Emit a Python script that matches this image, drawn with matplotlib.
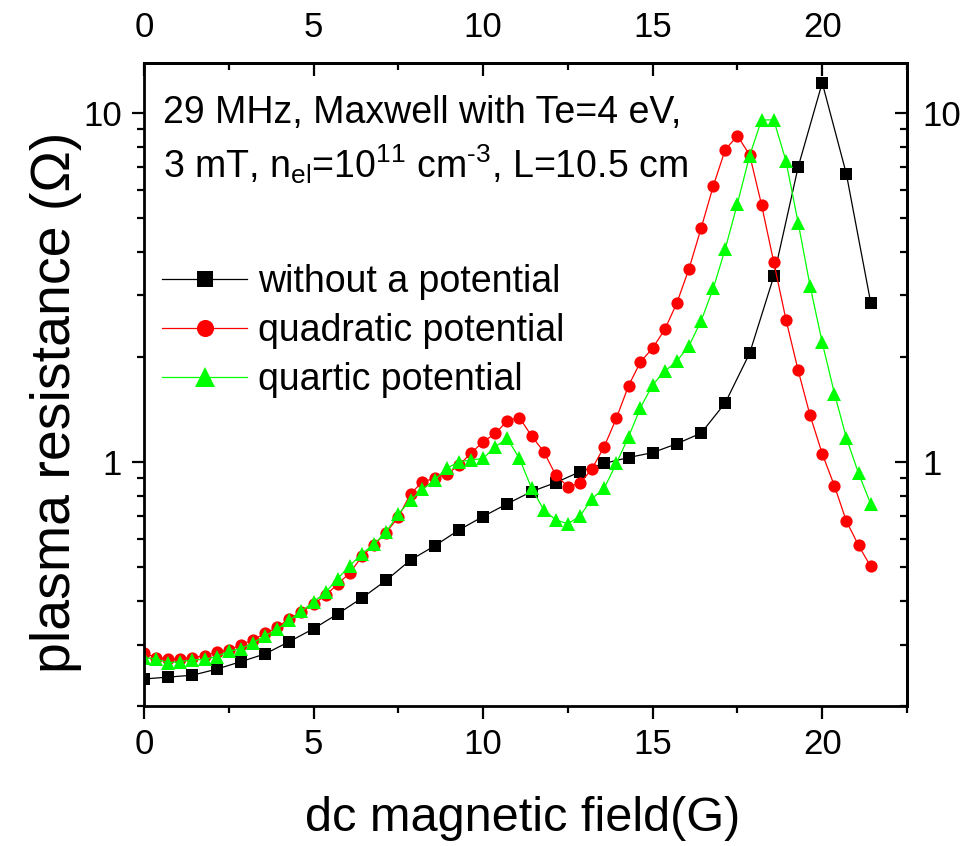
import numpy as np
import matplotlib
matplotlib.use("Agg")
import matplotlib.pyplot as plt
from matplotlib.ticker import FixedLocator, MultipleLocator, LogLocator, NullFormatter

plt.rcParams['font.family'] = ['Liberation Sans', 'DejaVu Sans']
plt.rcParams['mathtext.fontset'] = 'custom'
plt.rcParams['mathtext.rm'] = 'Liberation Sans'
plt.rcParams['mathtext.it'] = 'Liberation Sans:italic'

# dc magnetic field (G)
b_coarse = [0.0, 0.71, 1.43, 2.14, 2.86, 3.57, 4.29, 5.0, 5.71, 6.43, 7.14,
            7.86, 8.57, 9.29, 10.0, 10.71, 11.43, 12.14, 12.86, 13.57, 14.29,
            15.0, 15.71, 16.43, 17.14, 17.86, 18.57, 19.29, 20.0, 20.71, 21.43]
b_fine = [0.0, 0.36, 0.71, 1.07, 1.43, 1.79, 2.14, 2.5, 2.86, 3.21, 3.57,
          3.93, 4.29, 4.64, 5.0, 5.36, 5.71, 6.07, 6.43, 6.79, 7.14, 7.5,
          7.86, 8.21, 8.57, 8.93, 9.29, 9.64, 10.0, 10.36, 10.71, 11.07,
          11.43, 11.79, 12.14, 12.5, 12.86, 13.21, 13.57, 13.93, 14.29,
          14.64, 15.0, 15.36, 15.71, 16.07, 16.43, 16.79, 17.14, 17.5,
          17.86, 18.21, 18.57, 18.93, 19.29, 19.64, 20.0, 20.36, 20.71,
          21.07, 21.43]

# plasma resistance (Ohm)
r_none = [0.239, 0.242, 0.245, 0.255, 0.268, 0.282, 0.306, 0.333, 0.367,
          0.408, 0.458, 0.524, 0.575, 0.639, 0.698, 0.759, 0.823, 0.873,
          0.938, 0.991, 1.03, 1.064, 1.128, 1.21, 1.477, 2.05, 3.40, 7.0,
          12.2, 6.7, 2.86]
r_quad = [0.284, 0.275, 0.273, 0.273, 0.275, 0.279, 0.285, 0.289, 0.300,
          0.309, 0.323, 0.336, 0.356, 0.372, 0.392, 0.415, 0.447, 0.481,
          0.537, 0.579, 0.628, 0.695, 0.811, 0.877, 0.898, 0.922, 0.98,
          1.059, 1.143, 1.207, 1.313, 1.341, 1.187, 1.070, 0.918, 0.850,
          0.869, 0.956, 1.106, 1.335, 1.655, 1.935, 2.12, 2.40, 2.85, 3.575,
          4.68, 6.19, 7.85, 8.60, 7.58, 5.46, 3.74, 2.56, 1.83, 1.362, 1.056,
          0.854, 0.678, 0.577, 0.502]
r_quart = [0.275, 0.273, 0.266, 0.268, 0.271, 0.272, 0.277, 0.287, 0.292,
           0.303, 0.318, 0.332, 0.352, 0.374, 0.397, 0.424, 0.463, 0.505,
           0.546, 0.583, 0.630, 0.710, 0.776, 0.835, 0.888, 0.959, 1.002,
           1.013, 1.024, 1.106, 1.169, 1.024, 0.841, 0.729, 0.683, 0.665,
           0.701, 0.785, 0.841, 0.991, 1.181, 1.43, 1.665, 1.82, 1.945, 2.15,
           2.54, 3.15, 4.08, 5.5, 7.55, 9.55, 9.55, 7.29, 4.85, 3.2, 2.2,
           1.571, 1.175, 0.928, 0.758]

x_major = [0, 5, 10, 15, 20]
x_minor = [2.5, 7.5, 12.5, 17.5, 22.5]

fig = plt.figure(figsize=(9.6, 8.46), dpi=100)
ax = fig.add_axes([0.15, 0.1655, 0.7948, 0.76])

ax.plot(b_coarse, r_none, color='black', lw=0.9, marker='s', ms=8, mew=0,
        label='without a potential')
ax.plot(b_fine, r_quad, color='#ff0000', lw=0.9, marker='o', ms=8.8, mew=0,
        label='quadratic potential')
ax.plot(b_fine, r_quart, color='#00ff00', lw=0.9, marker='^', ms=10.5, mew=0,
        label='quartic potential')

ax.set_yscale('log')
ax.set_xlim(0, 22.5)
ax.set_ylim(0.2, 13.9)

ax.xaxis.set_major_locator(FixedLocator(x_major))
ax.xaxis.set_minor_locator(FixedLocator(x_minor))
ax.yaxis.set_major_locator(FixedLocator([1, 10]))
ax.yaxis.set_minor_locator(LogLocator(base=10, subs=np.arange(2, 10)))
ax.yaxis.set_minor_formatter(NullFormatter())
ax.set_yticklabels(['1', '10'])

for s in ax.spines.values():
    s.set_linewidth(2)
ax.tick_params(which='major', direction='out', length=9, width=1.6,
               labelsize=25, pad=7)
ax.tick_params(which='minor', direction='out', length=5, width=1.6)

# top and right axes, ticks pointing inward
top = ax.secondary_xaxis('top')
top.xaxis.set_major_locator(FixedLocator(x_major))
top.xaxis.set_minor_locator(FixedLocator(x_minor))
top.tick_params(which='major', direction='in', length=9, width=1.6,
                labelsize=25, pad=14)
top.tick_params(which='minor', direction='in', length=5, width=1.6)
top.spines['top'].set_linewidth(2)

right = ax.secondary_yaxis('right')
right.set_yscale('log')
right.yaxis.set_major_locator(FixedLocator([1, 10]))
right.yaxis.set_minor_locator(LogLocator(base=10, subs=np.arange(2, 10)))
right.yaxis.set_minor_formatter(NullFormatter())
right.set_yticks([1, 10], ['1', '10'])
right.tick_params(which='major', direction='in', length=9, width=1.6,
                  labelsize=25, pad=11)
right.tick_params(which='minor', direction='in', length=5, width=1.6)
right.spines['right'].set_linewidth(2)

fig.text(56 / 960, 1 - 402 / 846, 'plasma resistance (\u03a9)', rotation=90,
         ha='center', va='center', fontsize=40)
fig.text(523 / 960, 1 - 818 / 846, 'dc magnetic field(G)',
         ha='center', va='center', fontsize=35)

ax.text(0.025, 0.907, '29 MHz, Maxwell with Te=4 eV,', transform=ax.transAxes,
        fontsize=27, va='baseline')
ax.text(0.025, 0.821,
        r'3 mT, n$_{\mathrm{el}}$=10$^{11}$ cm$^{\text{-3}}$, L=10.5 cm',
        transform=ax.transAxes, fontsize=27, va='baseline')

ax.legend(loc='upper left', bbox_to_anchor=(0.0236, 0.687), frameon=False,
          fontsize=27, handlelength=2.27, handletextpad=0.3, labelspacing=0.34,
          borderpad=0, borderaxespad=0, markerscale=1.4)

fig.savefig('out.png', dpi=100)
